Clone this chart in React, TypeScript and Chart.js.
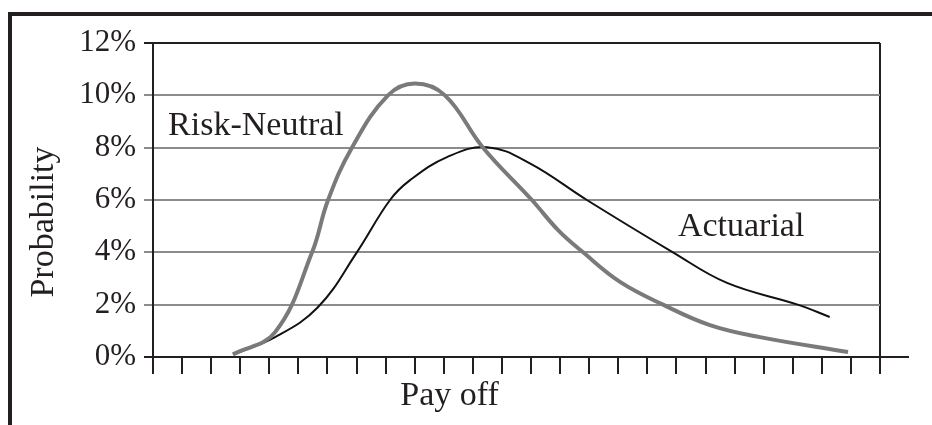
import React, { useEffect, useRef } from "react";
import { Chart, registerables } from "chart.js";

Chart.register(...registerables);

// x positions are in "payoff tick" units (0..25), y values in percent
const riskNeutralX = [2.75, 4.2, 5.47, 6.02, 6.84, 8.08, 9.01, 10.04, 11.35, 13.03, 13.93, 14.79, 16.06, 17.54, 19.15, 20.87, 23.9];
const riskNeutralY = [0.1, 0.95, 4.0, 6.0, 8.0, 10.0, 10.45, 10.0, 8.0, 6.0, 4.85, 4.0, 2.87, 2.0, 1.22, 0.76, 0.19];

const actuarialX = [2.75, 4.2, 5.67, 7.01, 8.15, 8.84, 10.11, 11.49, 12.96, 14.92, 17.88, 19.74, 22.17, 23.27];
const actuarialY = [0.1, 0.76, 1.9, 4.0, 6.0, 6.76, 7.64, 8.02, 7.4, 6.0, 4.0, 2.83, 2.0, 1.53];

const yTickValues = [0, 2, 4, 6, 8, 10, 12];
const xTickCount = 25;

const seriesLabels = ["Risk-Neutral", "Actuarial"];
const labelPositions = [
  { x: 0.52, y: 8.48 },
  { x: 18.05, y: 4.62 },
];
const xTitle = "Pay off";
const yTitle = "Probability";

const INK = "#231f20";
const GRID = "#8c8c8c";
const FONT = '"Liberation Serif", "Times New Roman", serif';

const toPoints = (xs: number[], ys: number[]) => xs.map((x, i) => ({ x, y: ys[i] }));

const textPlugin = {
  id: "textPlugin",
  afterDraw(chart: any) {
    const { ctx, chartArea, scales } = chart;
    const x = scales.x;
    const y = scales.y;
    ctx.save();
    // axis line extension past right border
    ctx.strokeStyle = INK;
    ctx.lineWidth = 2;
    ctx.beginPath();
    ctx.moveTo(chartArea.right, chartArea.bottom);
    ctx.lineTo(chartArea.right + 29, chartArea.bottom);
    ctx.stroke();

    ctx.fillStyle = INK;
    ctx.font = `34px ${FONT}`;
    ctx.textBaseline = "alphabetic";
    ctx.textAlign = "left";
    seriesLabels.forEach((t, i) => {
      ctx.fillText(t, x.getPixelForValue(labelPositions[i].x), y.getPixelForValue(labelPositions[i].y));
    });
    ctx.textAlign = "center";
    ctx.fillText(xTitle, x.getPixelForValue(10.2), chartArea.bottom + 48);
    ctx.translate(chartArea.left - 100, chartArea.bottom - 135);
    ctx.rotate(-Math.PI / 2);
    ctx.fillText(yTitle, 0, 0);
    ctx.restore();
  },
};

export default function App() {
  const ref = useRef<HTMLCanvasElement | null>(null);
  useEffect(() => {
    document.body.style.margin = "0";
    const chart = new Chart(ref.current as HTMLCanvasElement, {
      type: "line",
      data: {
        datasets: [
          {
            label: seriesLabels[0],
            data: toPoints(riskNeutralX, riskNeutralY),
            borderColor: "#7a7a7a",
            borderWidth: 4,
            pointRadius: 0,
            tension: 0.4,
            borderCapStyle: "butt",
          },
          {
            label: seriesLabels[1],
            data: toPoints(actuarialX, actuarialY),
            borderColor: "#111111",
            borderWidth: 2,
            pointRadius: 0,
            tension: 0.4,
          },
        ],
      },
      options: {
        animation: false,
        responsive: false,
        devicePixelRatio: 1,
        layout: { padding: { left: 0, right: 52, top: 43, bottom: 0 } },
        plugins: { legend: { display: false }, tooltip: { enabled: false } },
        scales: {
          x: {
            type: "linear",
            min: 0,
            max: xTickCount,
            afterFit: (s: any) => {
              s.height = 68;
            },
            afterBuildTicks: (s: any) => {
              s.ticks = Array.from({ length: xTickCount + 1 }, (_, i) => ({ value: i }));
            },
            ticks: { callback: () => "", font: { size: 1 } },
            grid: {
              color: (c: any) => (c.tick && c.tick.value === xTickCount ? INK : "rgba(0,0,0,0)"),
              tickColor: INK,
              lineWidth: 2,
              tickLength: 17,
              drawTicks: true,
            },
            border: { color: INK, width: 2 },
          },
          y: {
            min: 0,
            max: 12,
            afterFit: (s: any) => {
              s.width = 153;
            },
            afterBuildTicks: (s: any) => {
              s.ticks = yTickValues.map((v) => ({ value: v }));
            },
            ticks: {
              callback: (v: any) => `${v}%`,
              color: INK,
              padding: 8,
              font: { family: FONT, size: 31 },
            },
            grid: {
              color: (c: any) => (c.tick && (c.tick.value === 12 || c.tick.value === 0) ? INK : GRID),
              lineWidth: 2,
              tickLength: 9,
            },
            border: { color: INK, width: 2 },
          },
        },
      },
      plugins: [textPlugin],
    } as any);
    return () => chart.destroy();
  }, []);

  return (
    <div style={{ position: "relative", width: 932, height: 425, background: "#fff", overflow: "hidden" }}>
      <div
        style={{
          position: "absolute",
          left: 8,
          top: 12,
          width: 940,
          height: 430,
          borderLeft: `4px solid ${INK}`,
          borderTop: `4px solid ${INK}`,
        }}
      />
      <canvas ref={ref} width={932} height={425} style={{ position: "absolute", left: 0, top: 0 }} />
    </div>
  );
}
